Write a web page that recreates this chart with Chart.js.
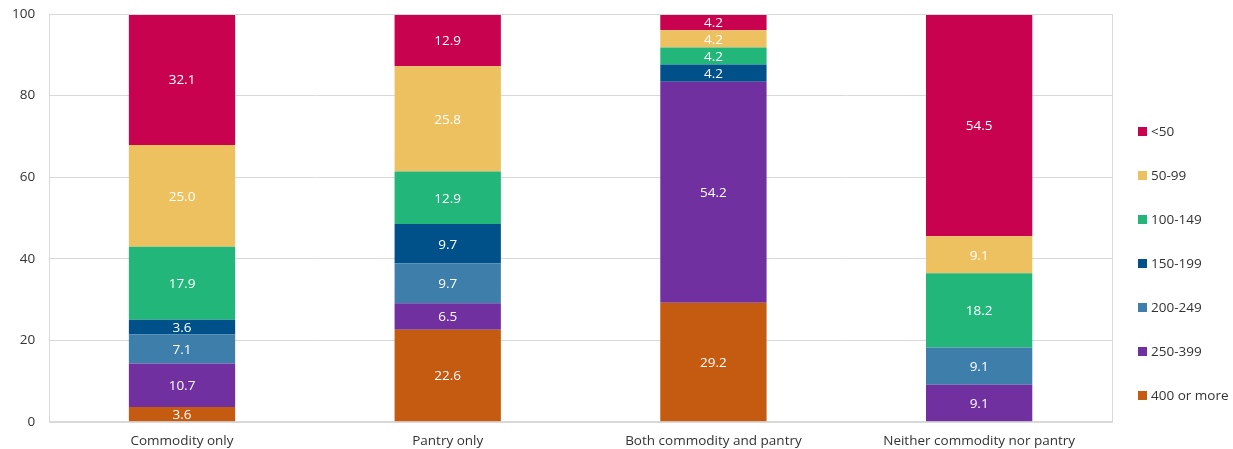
<!DOCTYPE html>
<html>
<head>
<meta charset="utf-8">
<script src="https://cdn.jsdelivr.net/npm/chart.js@4"></script>
<style>
  html, body { margin: 0; padding: 0; background: #fff; }
  #wrap { position: relative; width: 1233px; height: 449px; }
</style>
</head>
<body>
<div id="wrap"><canvas id="chart"></canvas></div>
<script>
// Categories and series (percent of households by income bracket)
const categories = ["Commodity only", "Pantry only", "Both commodity and pantry", "Neither commodity nor pantry"];

const seriesNames = ["400 or more", "250-399", "200-249", "150-199", "100-149", "50-99", "<50"];
const seriesColors = ["#C55A11", "#7030A0", "#3E7EAB", "#005089", "#22B67A", "#EDC160", "#C8024E"];

const over400  = [3.6, 22.6, 29.2, 0];
const r250_399 = [10.7, 6.5, 54.2, 9.1];
const r200_249 = [7.1, 9.7, 0, 9.1];
const r150_199 = [3.6, 9.7, 4.2, 0];
const r100_149 = [17.9, 12.9, 4.2, 18.2];
const r50_99   = [25.0, 25.8, 4.2, 9.1];
const under50  = [32.1, 12.9, 4.2, 54.5];

const seriesValues = [over400, r250_399, r200_249, r150_199, r100_149, r50_99, under50];

const yTicks = [0, 20, 40, 60, 80, 100];

const FONT = "'Open Sans', 'DejaVu Sans', sans-serif";
const FONT_SIZE = 13.5;
const TEXT_COLOR = "#333333";

// white value labels in the middle of each segment
const segmentLabels = {
  id: "segmentLabels",
  afterDatasetsDraw(chart) {
    const ctx = chart.ctx;
    ctx.save();
    ctx.font = FONT_SIZE + "px " + FONT;
    ctx.fillStyle = "#ffffff";
    ctx.textAlign = "center";
    ctx.textBaseline = "middle";
    chart.data.datasets.forEach((ds, i) => {
      const meta = chart.getDatasetMeta(i);
      meta.data.forEach((bar, j) => {
        const v = ds.data[j];
        if (!v) return;
        ctx.fillText(v.toFixed(1), bar.x, (bar.y + bar.base) / 2 + 1);
      });
    });
    ctx.restore();
  }
};

// light frame round the plot area
const plotFrame = {
  id: "plotFrame",
  afterDraw(chart) {
    const a = chart.chartArea;
    const ctx = chart.ctx;
    ctx.save();
    ctx.strokeStyle = "#D9D9D9";
    ctx.lineWidth = 1;
    ctx.strokeRect(Math.round(a.left) + 0.5, Math.round(a.top) + 0.5,
      Math.round(a.right - a.left), Math.round(a.bottom - a.top));
    ctx.restore();
  }
};

// vertical legend on the right, top entry is the top of the stack
const sideLegend = {
  id: "sideLegend",
  afterDraw(chart) {
    const ctx = chart.ctx;
    const x = 1138, y0 = 131.5, step = 44;
    ctx.save();
    ctx.font = FONT_SIZE + "px " + FONT;
    ctx.textBaseline = "middle";
    ctx.textAlign = "left";
    const n = chart.data.datasets.length;
    for (let k = 0; k < n; k++) {
      const ds = chart.data.datasets[n - 1 - k];
      const y = y0 + k * step;
      ctx.fillStyle = ds.backgroundColor;
      ctx.fillRect(x, Math.round(y - 4.5), 9, 9);
      ctx.fillStyle = TEXT_COLOR;
      ctx.fillText(ds.label, x + 13, y + 1);
    }
    ctx.restore();
  }
};

const datasets = seriesNames.map((name, i) => ({
  label: name,
  data: seriesValues[i],
  backgroundColor: seriesColors[i],
  borderWidth: 0,
  categoryPercentage: 1.0,
  barPercentage: 0.4
}));

new Chart(document.getElementById("chart"), {
  type: "bar",
  data: { labels: categories, datasets },
  plugins: [segmentLabels, plotFrame, sideLegend],
  options: {
    responsive: true,
    maintainAspectRatio: false,
    animation: false,
    layout: { autoPadding: false, padding: { top: 14, right: 121, left: 12, bottom: -11 } },
    plugins: {
      legend: { display: false },
      tooltip: { enabled: false }
    },
    scales: {
      x: {
        stacked: true,
        grid: { display: false, drawTicks: false },
        border: { color: "#D9D9D9" },
        ticks: { color: TEXT_COLOR, font: { family: FONT, size: FONT_SIZE }, padding: 11 }
      },
      y: {
        stacked: true,
        min: 0,
        max: 100,
        afterBuildTicks(axis) { axis.ticks = yTicks.map(v => ({ value: v })); },
        // invisible tick marks keep the labels clear of the axis line
        grid: { color: "#D9D9D9", drawTicks: true, tickLength: 14, tickColor: "rgba(0,0,0,0)" },
        border: { color: "#D9D9D9" },
        ticks: { color: TEXT_COLOR, font: { family: FONT, size: FONT_SIZE }, padding: 0 }
      }
    }
  }
});
</script>
</body>
</html>
